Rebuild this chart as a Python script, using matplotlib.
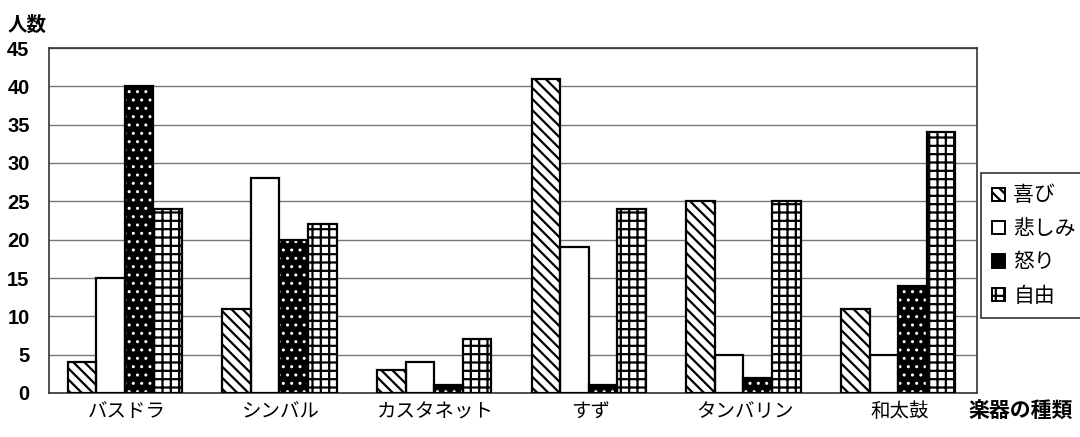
import numpy as np
import matplotlib
matplotlib.use("Agg")
import matplotlib.pyplot as plt
from matplotlib.patches import Patch

plt.rcParams['font.family'] = ['Noto Sans CJK JP', 'DejaVu Sans']
plt.rcParams['hatch.linewidth'] = 1.6

# 楽器ごとの回答人数
instruments = ["バスドラ", "シンバル", "カスタネット", "すず", "タンバリン", "和太鼓"]
emotions = ["喜び", "悲しみ", "怒り", "自由"]
joy = [4, 11, 3, 41, 25, 11]
sadness = [15, 28, 4, 19, 5, 5]
anger = [40, 20, 1, 1, 2, 14]
freedom = [24, 22, 7, 24, 25, 34]
yticks = [0, 5, 10, 15, 20, 25, 30, 35, 40, 45]

series = [joy, sadness, anger, freedom]
styles = [
    dict(facecolor="white", edgecolor="black", hatch="\\\\\\"),
    dict(facecolor="white", edgecolor="black", hatch=None),
    dict(facecolor="black", edgecolor="white", hatch=".."),
    dict(facecolor="white", edgecolor="black", hatch="++"),
]

fig = plt.figure(figsize=(10.8, 4.37), dpi=100)
ax = fig.add_axes([49 / 1080, 1 - 393 / 437, 928 / 1080, 345 / 437])

x = np.arange(len(instruments))
width = 0.185
for i, (vals, st) in enumerate(zip(series, styles)):
    pos = x + (i - 1.5) * width - 0.01
    # 怒りの点は細めに
    lw_hatch = 1.0 if st["facecolor"] == "black" else 1.6
    plt.rcParams['hatch.linewidth'] = lw_hatch
    ax.bar(pos, vals, width, color=st["facecolor"], edgecolor=st["edgecolor"],
           hatch=st["hatch"], linewidth=0, zorder=2)
    # 枠線は別に描く
    ax.bar(pos, vals, width, fill=False, edgecolor="black", linewidth=1.6, zorder=3)
plt.rcParams['hatch.linewidth'] = 1.6

ax.set_xlim(-0.5, len(instruments) - 0.5)
ax.set_ylim(0, 45)
ax.set_yticks(yticks)
ax.set_yticklabels([str(v) for v in yticks], fontsize=14.5, fontweight="bold",
                   family=["Liberation Sans", "DejaVu Sans"])
ax.set_xticks(x)
ax.set_xticklabels(instruments, fontsize=14)
ax.tick_params(axis="x", length=0, pad=6)
ax.tick_params(axis="y", length=0, pad=14)
ax.yaxis.grid(True, color="#777777", linewidth=1)
ax.set_axisbelow(True)
for s in ax.spines.values():
    s.set_linewidth(1.2)
    s.set_color("#333333")

fig.text(8 / 1080, 1 - 25 / 437, "人数", fontsize=14, fontweight="bold", va="center", ha="left")
fig.text(968 / 1080, 1 - 411 / 437, "楽器の種類", fontsize=15, fontweight="bold", va="center", ha="left")

handles = [Patch(facecolor=st["facecolor"], edgecolor="black",
                 hatch=None if st["facecolor"] == "black" else st["hatch"], linewidth=1.4)
           for st in styles]
leg = fig.legend(handles, emotions, loc="upper left", bbox_to_anchor=(981 / 1080, 1 - 173 / 437),
                 frameon=True, fancybox=False, edgecolor="black", fontsize=15,
                 handlelength=0.6, handleheight=0.6, handletextpad=0.4,
                 labelspacing=0.55, borderpad=0.55, borderaxespad=0)
leg.get_frame().set_linewidth(1.2)

fig.savefig("out.png", dpi=100)
